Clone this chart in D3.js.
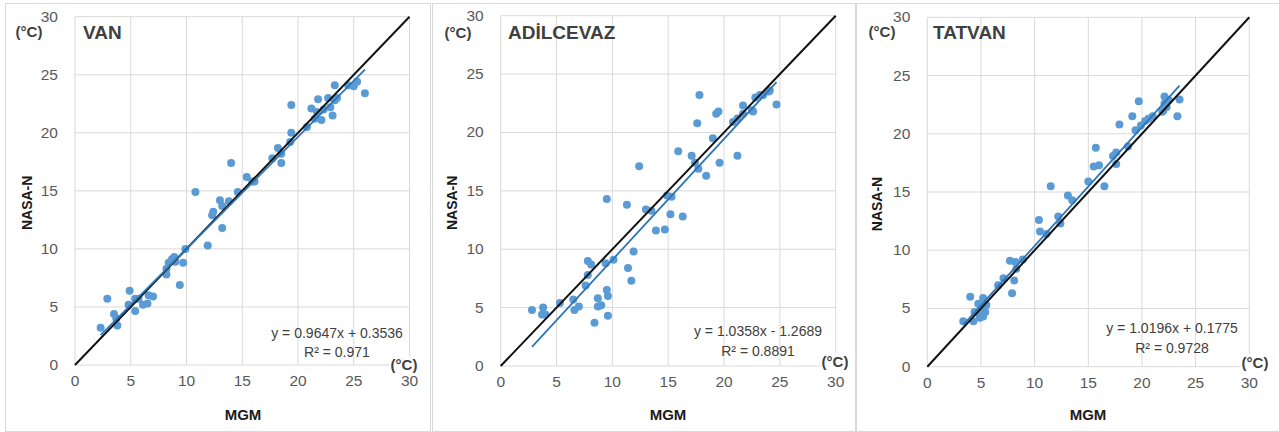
<!DOCTYPE html>
<html>
<head>
<meta charset="utf-8">
<script src="https://cdn.jsdelivr.net/npm/d3@7"></script>
<style>
body { margin: 0; background: #fff; }
text { font-family: "Liberation Sans", Arial, sans-serif; }
</style>
</head>
<body>
<svg id="chart" width="1279" height="432"></svg>
<script>
// values (MGM on x, NASA-N on y)
var vanX = [2.3, 2.9, 3.5, 3.7, 3.8, 4.9, 4.8, 5.4, 5.4, 5.7, 6.1, 6.5, 7.0, 6.6, 8.2, 8.2, 8.4, 8.7, 8.9, 9.0, 9.4, 9.7, 9.9, 10.8, 11.9, 12.3, 12.4, 13.0, 13.2, 13.2, 13.8, 14.0, 14.6, 15.4, 15.9, 16.1, 17.7, 18.2, 18.5, 18.5, 19.4, 19.4, 19.3, 20.8, 21.2, 21.5, 21.8, 22.1, 22.3, 22.7, 22.9, 23.1, 23.3, 23.3, 23.5, 24.5, 25.0, 25.3, 26.0, 21.7];
var vanY = [3.2, 5.7, 4.4, 4.0, 3.4, 6.4, 5.2, 5.7, 4.65, 5.7, 5.2, 5.3, 5.9, 6.0, 7.8, 8.3, 8.8, 9.1, 9.3, 8.9, 6.9, 8.8, 10.0, 14.9, 10.3, 12.9, 13.2, 14.2, 11.8, 13.7, 14.1, 17.4, 14.9, 16.2, 15.8, 15.8, 17.8, 18.7, 17.4, 18.2, 22.4, 20.0, 19.2, 20.5, 22.1, 21.2, 22.9, 21.1, 22.0, 23.0, 22.2, 21.5, 24.1, 22.8, 23.0, 24.1, 24.0, 24.4, 23.4, 21.8];

var adilX = [2.8, 3.8, 3.7, 4.0, 5.3, 6.5, 6.6, 7.0, 7.6, 7.8, 7.8, 8.1, 8.4, 8.7, 8.7, 9.0, 9.4, 9.5, 9.5, 9.6, 9.6, 10.1, 11.3, 11.4, 11.7, 11.9, 12.4, 13.0, 13.5, 13.9, 14.7, 14.9, 15.3, 15.2, 15.9, 16.3, 17.1, 17.4, 17.6, 17.7, 17.8, 18.4, 19.0, 19.3, 19.5, 19.6, 20.8, 21.2, 21.2, 21.7, 21.7, 22.5, 22.6, 22.8, 23.2, 23.5, 24.0, 24.7, 24.1];
var adilY = [4.8, 5.0, 4.4, 4.4, 5.4, 5.7, 4.8, 5.1, 6.9, 7.8, 9.0, 8.7, 3.7, 5.8, 5.1, 5.2, 8.8, 14.3, 6.5, 6.0, 4.3, 9.1, 13.8, 8.4, 7.3, 9.8, 17.1, 13.4, 13.3, 11.6, 11.7, 14.6, 14.5, 13.0, 18.4, 12.8, 18.0, 17.4, 20.8, 16.9, 23.2, 16.3, 19.5, 21.6, 21.8, 17.4, 20.9, 21.2, 18.0, 22.3, 21.6, 21.9, 21.8, 23.0, 23.2, 23.2, 23.5, 22.4, 23.6];

var tatX = [3.35, 4.0, 4.3, 4.4, 4.75, 4.75, 4.9, 5.0, 5.2, 5.4, 5.5, 5.2, 6.6, 7.1, 7.7, 7.9, 8.1, 8.2, 8.3, 8.9, 10.4, 10.5, 11.1, 11.5, 12.2, 12.4, 13.1, 13.5, 15.0, 15.5, 15.7, 16.0, 16.5, 17.3, 17.6, 17.6, 17.9, 18.7, 19.1, 19.4, 19.7, 19.9, 20.3, 20.6, 21.0, 22.0, 22.1, 22.1, 22.3, 22.5, 23.3, 23.5, 21.9];
var tatY = [3.9, 6.0, 3.9, 4.7, 4.6, 5.4, 4.2, 5.0, 5.9, 4.7, 5.3, 4.3, 7.0, 7.6, 9.1, 6.3, 7.4, 9.0, 8.4, 9.2, 12.6, 11.6, 11.4, 15.5, 12.9, 12.3, 14.7, 14.3, 15.9, 17.2, 18.8, 17.3, 15.5, 18.1, 18.4, 17.4, 20.8, 18.9, 21.5, 20.3, 22.8, 20.7, 21.1, 21.3, 21.5, 22.0, 23.2, 22.6, 22.3, 22.9, 21.5, 22.95, 21.9];

// linear trendline coefficients [slope, intercept] and labels
var vanFit = [0.9647, 0.3536];
var adilFit = [1.0358, -1.2689];
var tatFit = [1.0196, 0.1775];
var eqLabels = ["y = 0.9647x + 0.3536", "y = 1.0358x - 1.2689", "y = 1.0196x + 0.1775"];
var r2Labels = ["R\u00b2 = 0.971", "R\u00b2 = 0.8891", "R\u00b2 = 0.9728"];
var titles = ["VAN", "AD\u0130LCEVAZ", "TATVAN"];
var ticks = [0, 5, 10, 15, 20, 25, 30];

var panels = [
  {title: titles[0], xs: vanX, ys: vanY, fit: vanFit, eq: eqLabels[0], r2: r2Labels[0],
   box: [5, 3, 430, 431], plot: [75, 409.5, 16.7, 365],
   eqPos: [337, 338, 357], yUnit: [29, 37], title0: 83, yLab: 27, xLab: 243, xUnit: [404, 370]},
  {title: titles[1], xs: adilX, ys: adilY, fit: adilFit, eq: eqLabels[1], r2: r2Labels[1],
   box: [432, 3, 855, 431], plot: [500.7, 835.7, 15.7, 366],
   eqPos: [758, 336, 356], yUnit: [458, 38], title0: 508, yLab: 452, xLab: 668, xUnit: [835, 367]},
  {title: titles[2], xs: tatX, ys: tatY, fit: tatFit, eq: eqLabels[2], r2: r2Labels[2],
   box: [856, 3, 1285, 431], plot: [927.3, 1249.3, 17.3, 366.7],
   eqPos: [1172, 333, 353], yUnit: [882, 37], title0: 933, yLab: 877, xLab: 1088, xUnit: [1255, 368]}
];

var svg = d3.select("#chart");

panels.forEach(function(p) {
  var g = svg.append("g");

  g.append("rect")
    .attr("x", p.box[0] + 0.5).attr("y", p.box[1] + 0.5)
    .attr("width", p.box[2] - p.box[0]).attr("height", p.box[3] - p.box[1])
    .attr("fill", "#fff").attr("stroke", "#d9d9d9").attr("stroke-width", 1);

  var x = d3.scaleLinear().domain([0, 30]).range([p.plot[0], p.plot[1]]);
  var y = d3.scaleLinear().domain([0, 30]).range([p.plot[3], p.plot[2]]);

  // grid
  g.selectAll(".vgrid").data(ticks).enter().append("line")
    .attr("x1", function(d) { return x(d); }).attr("x2", function(d) { return x(d); })
    .attr("y1", y(0)).attr("y2", y(30))
    .attr("stroke", "#d9d9d9").attr("stroke-width", 1);
  g.selectAll(".hgrid").data(ticks).enter().append("line")
    .attr("x1", x(0)).attr("x2", x(30))
    .attr("y1", function(d) { return y(d); }).attr("y2", function(d) { return y(d); })
    .attr("stroke", "#d9d9d9").attr("stroke-width", 1);

  // tick labels
  g.selectAll(".xt").data(ticks).enter().append("text")
    .attr("x", function(d) { return x(d); })
    .attr("y", y(0) + 21)
    .attr("text-anchor", "middle")
    .attr("font-size", "15.5px").attr("fill", "#595959")
    .text(function(d) { return d; });
  g.selectAll(".yt").data(ticks).enter().append("text")
    .attr("x", x(0) - 17)
    .attr("y", function(d) { return y(d) + 5; })
    .attr("text-anchor", "end")
    .attr("font-size", "15.5px").attr("fill", "#595959")
    .text(function(d) { return d; });

  // points
  var pts = p.xs.map(function(v, i) { return {x: v, y: p.ys[i]}; });
  g.selectAll(".dot").data(pts).enter().append("circle")
    .attr("cx", function(d) { return x(d.x); })
    .attr("cy", function(d) { return y(d.y); })
    .attr("r", 4)
    .attr("fill", "#5b9bd5");

  // 1:1 line
  g.append("path")
    .datum([0, 30])
    .attr("fill", "none").attr("stroke", "#111").attr("stroke-width", 2)
    .attr("d", d3.line().x(function(d) { return x(d); }).y(function(d) { return y(d); }));

  // trendline over the data range
  var ext = d3.extent(p.xs);
  g.append("path")
    .datum(ext)
    .attr("fill", "none").attr("stroke", "#2e75b6").attr("stroke-width", 1.8)
    .attr("d", d3.line()
      .x(function(d) { return x(d); })
      .y(function(d) { return y(p.fit[0] * d + p.fit[1]); }));

  // equation
  g.append("text")
    .attr("x", p.eqPos[0]).attr("y", p.eqPos[1])
    .attr("text-anchor", "middle").attr("font-size", "14px").attr("fill", "#404040")
    .text(p.eq);
  g.append("text")
    .attr("x", p.eqPos[0]).attr("y", p.eqPos[2])
    .attr("text-anchor", "middle").attr("font-size", "14px").attr("fill", "#404040")
    .text(p.r2);

  // title and units
  g.append("text")
    .attr("x", p.title0).attr("y", 39)
    .attr("font-size", "19px").attr("font-weight", "bold").attr("fill", "#404040")
    .text(p.title);
  g.append("text")
    .attr("x", p.yUnit[0]).attr("y", p.yUnit[1])
    .attr("text-anchor", "middle")
    .attr("font-size", "15px").attr("font-weight", "bold").attr("fill", "#404040")
    .text("(\u00b0C)");

  var xu = g.append("text")
    .attr("x", p.xUnit[0]).attr("y", p.xUnit[1])
    .attr("text-anchor", "middle")
    .attr("font-size", "15px").attr("font-weight", "bold").attr("fill", "#404040")
    .text("(\u00b0C)");
  var bb = xu.node().getBBox();
  g.insert("rect", function() { return xu.node(); })
    .attr("x", bb.x - 1).attr("y", bb.y).attr("width", bb.width + 2).attr("height", bb.height)
    .attr("fill", "#fff");

  // axis titles
  g.append("text")
    .attr("transform", "translate(" + (p.yLab + 5) + "," + ((p.plot[2] + p.plot[3]) / 2 + 12) + ") rotate(-90)")
    .attr("text-anchor", "middle")
    .attr("font-size", "14px").attr("font-weight", "bold").attr("fill", "#1a1a1a")
    .text("NASA-N");
  g.append("text")
    .attr("x", p.xLab).attr("y", 420)
    .attr("text-anchor", "middle")
    .attr("font-size", "15px").attr("font-weight", "bold").attr("fill", "#1a1a1a")
    .text("MGM");
});
</script>
</body>
</html>
